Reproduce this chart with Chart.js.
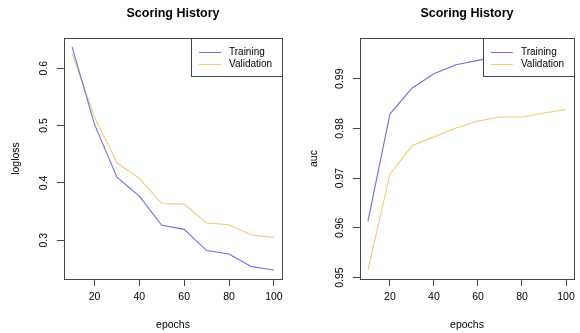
<!DOCTYPE html>
<html>
<head>
<meta charset="utf-8">
<script src="https://cdn.jsdelivr.net/npm/chart.js@4/dist/chart.umd.min.js"></script>
<style>
  html, body { margin: 0; padding: 0; background: #fff; }
  #wrap { position: relative; width: 580px; height: 333px; }
  .panel { position: absolute; top: 0; width: 290px; height: 333px; }
</style>
</head>
<body>
<div id="wrap">
  <div class="panel" style="left:0"><canvas id="c1" width="290" height="333"></canvas></div>
  <div class="panel" style="left:290px"><canvas id="c2" width="290" height="333"></canvas></div>
</div>
<script>
// ---- data ----
const epochs = [10, 20, 30, 40, 50, 60, 70, 80, 90, 100];
const trainLogloss = [0.637, 0.502, 0.410, 0.377, 0.326, 0.319, 0.282, 0.276, 0.254, 0.248];
const validLogloss = [0.626, 0.515, 0.435, 0.408, 0.364, 0.363, 0.330, 0.327, 0.309, 0.305];
const trainAuc = [0.9613, 0.9829, 0.9881, 0.9910, 0.9928, 0.9937, 0.9946, 0.9953, 0.9959, 0.9964];
const validAuc = [0.9515, 0.9708, 0.9765, 0.9783, 0.9801, 0.9815, 0.9823, 0.9823, 0.9831, 0.9838];
const xTicks = [20, 40, 60, 80, 100];
const loglossTicks = [0.3, 0.4, 0.5, 0.6];
const aucTicks = [0.95, 0.96, 0.97, 0.98, 0.99];
const seriesNames = ['Training', 'Validation'];
const chartTitle = 'Scoring History';
const xTitle = 'epochs';

const FONT = '"Liberation Sans", Arial, Helvetica, sans-serif';
const BLUE = 'rgb(112,112,228)';
const ORANGE = 'rgb(244,200,120)';
const AXIS = '#444';

// R-style 4% range extension
function rlim(arrs) {
  const all = [].concat(...arrs);
  const lo = Math.min(...all), hi = Math.max(...all);
  const d = (hi - lo) * 0.04;
  return [lo - d, hi + d];
}

const boxLegendPlugin = {
  id: 'boxLegend',
  afterDraw(chart, args, opts) {
    const ctx = chart.ctx;
    const a = chart.chartArea;
    ctx.save();
    // rotated y tick labels (R style)
    const ys = chart.scales.y;
    ctx.fillStyle = '#000';
    ctx.font = '10.5px ' + FONT;
    ctx.textAlign = 'center';
    ctx.textBaseline = 'middle';
    opts.yTicks.forEach(v => {
      const py = ys.getPixelForValue(v);
      ctx.save();
      ctx.translate(a.left - 20, py);
      ctx.rotate(-Math.PI / 2);
      ctx.fillText(String(v), 0, 0);
      ctx.restore();
    });
    // box around plot region
    ctx.strokeStyle = AXIS;
    ctx.lineWidth = 1;
    ctx.strokeRect(Math.round(a.left) + 0.5, Math.round(a.top) + 0.5,
                   Math.round(a.right - a.left), Math.round(a.bottom - a.top));
    // legend
    const w = 91, h = 38;
    const lx = Math.round(a.right - w), ly = Math.round(a.top);
    ctx.fillStyle = '#fff';
    ctx.fillRect(lx, ly, w, h);
    ctx.strokeRect(lx + 0.5, ly + 0.5, w, h);
    ctx.font = '10px ' + FONT;
    ctx.textAlign = 'left';
    chart.data.datasets.forEach((ds, i) => {
      const ry = ly + 14 + i * 12;
      ctx.strokeStyle = ds.borderColor;
      ctx.beginPath();
      ctx.moveTo(a.right - 83, ry + 0.5);
      ctx.lineTo(a.right - 61, ry + 0.5);
      ctx.stroke();
      ctx.fillStyle = '#000';
      ctx.fillText(ds.label, a.right - 53, ry);
    });
    ctx.restore();
  }
};

function makeChart(id, yName, trainVals, validVals, yTicks, yAxisWidth, rightPad, yTitlePad) {
  const [ymin, ymax] = rlim([trainVals, validVals]);
  const [xmin, xmax] = rlim([epochs]);
  return new Chart(document.getElementById(id), {
    type: 'line',
    data: {
      datasets: [
        { label: seriesNames[0], data: epochs.map((e, i) => ({ x: e, y: trainVals[i] })),
          borderColor: BLUE, borderWidth: 1.1, pointRadius: 0, tension: 0, fill: false },
        { label: seriesNames[1], data: epochs.map((e, i) => ({ x: e, y: validVals[i] })),
          borderColor: ORANGE, borderWidth: 1.1, pointRadius: 0, tension: 0, fill: false }
      ]
    },
    options: {
      responsive: false,
      animation: false,
      devicePixelRatio: 1,
      layout: { padding: { top: 0, left: 0, right: rightPad, bottom: 0 } },
      plugins: {
        legend: { display: false },
        tooltip: { enabled: false },
        title: {
          display: true, text: chartTitle, fullSize: false, color: '#000',
          font: { family: FONT, size: 12.5, weight: 'bold' },
          padding: { top: 6, bottom: 17 }
        },
        boxLegend: { yTicks: yTicks }
      },
      scales: {
        x: {
          type: 'linear', min: xmin, max: xmax,
          afterBuildTicks: s => { s.ticks = xTicks.map(v => ({ value: v })); },
          afterFit: s => { s.height = 54; },
          grid: { drawOnChartArea: false, drawTicks: true, tickLength: 7, color: AXIS },
          border: { display: false },
          ticks: { autoSkip: false, maxRotation: 0, padding: 5, color: '#000',
                   font: { family: FONT, size: 10.5 }, callback: v => String(v) },
          title: { display: true, text: xTitle, color: '#000',
                   font: { family: FONT, size: 10.5 }, padding: { top: 0, bottom: 2 } }
        },
        y: {
          type: 'linear', min: ymin, max: ymax,
          afterBuildTicks: s => { s.ticks = yTicks.map(v => ({ value: v })); },
          afterFit: s => { s.width = yAxisWidth; },
          grid: { drawOnChartArea: false, drawTicks: true, tickLength: 7, color: AXIS },
          border: { display: false },
          ticks: { display: false },
          title: { display: true, text: yName, color: '#000',
                   font: { family: FONT, size: 10.5 }, padding: { top: yTitlePad, bottom: 0 } }
        }
      }
    },
    plugins: [boxLegendPlugin]
  });
}

makeChart('c1', 'logloss', trainLogloss, validLogloss, loglossTicks, 64, 8, 10);
makeChart('c2', 'auc', trainAuc, validAuc, aucTicks, 70, 4, 18);
</script>
</body>
</html>
